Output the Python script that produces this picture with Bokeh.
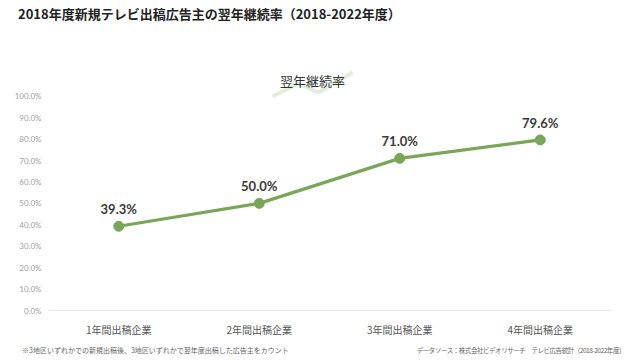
from bokeh.plotting import figure
from bokeh.layouts import column
from bokeh.models import (ColumnDataSource, Label, NumeralTickFormatter, FixedTicker,
                          Range1d, FactorRange, Div, PolyAnnotation)
from bokeh.core.properties import value
from bokeh.embed import file_html
from bokeh.resources import INLINE

categories = ["1年間出稿企業", "2年間出稿企業", "3年間出稿企業", "4年間出稿企業"]
rates = [0.393, 0.500, 0.710, 0.796]
rate_labels = ["39.3%", "50.0%", "71.0%", "79.6%"]
y_ticks = [0.0, 0.1, 0.2, 0.3, 0.4, 0.5, 0.6, 0.7, 0.8, 0.9, 1.0]

title_text = "2018年度新規テレビ出稿広告主の翌年継続率（2018-2022年度）"
series_name = "翌年継続率"
note_left = "※3地区いずれかでの新規出稿後、3地区いずれかで翌年度出稿した広告主をカウント"
note_right = "データソース：株式会社ビデオリサーチ　テレビ広告統計（2018-2022年度）"

GREEN = "#7aa65a"
JP = "Noto Sans CJK JP"

src = ColumnDataSource(dict(cat=categories, rate=rates, lab=rate_labels))

p = figure(width=640, height=312, x_range=FactorRange(*categories), y_range=Range1d(0, 1.12),
           output_backend="svg", toolbar_location=None,
           min_border_left=48, min_border_right=30, min_border_top=42, min_border_bottom=30,
           margin=(0, 0, 0, 0))
p.outline_line_color = None
p.background_fill_color = "white"
p.border_fill_color = "white"
p.xgrid.grid_line_color = None
p.ygrid.grid_line_color = None

# faint decorative legend icon behind the series name (frame-relative screen units)
p.add_layout(PolyAnnotation(xs=[224, 250, 270, 304, 270, 250], ys=[214, 227, 218, 238, 218, 227],
                            xs_units="screen", ys_units="screen",
                            fill_alpha=0, line_color="#dce9d2", line_width=4, line_alpha=0.8))

p.line("cat", "rate", source=src, line_color=GREEN, line_width=3.2)
p.scatter("cat", "rate", source=src, size=10, fill_color=GREEN, line_color=GREEN)
p.text("cat", "rate", text="lab", source=src, text_align="center", text_baseline="bottom",
       y_offset=-9, text_font=value("Lato"), text_font_style="bold",
       text_font_size="13px", text_color="#3a3a3a")

yax = p.yaxis[0]
yax.ticker = FixedTicker(ticks=y_ticks)
yax.formatter = NumeralTickFormatter(format="0.0%")
yax.axis_line_color = None
yax.major_tick_line_color = None
yax.minor_tick_line_color = None
yax.major_tick_out = 0
yax.major_label_standoff = 7
yax.major_label_text_font = "Lato"
yax.major_label_text_font_size = "8px"
yax.major_label_text_color = "#a0a0a0"

xax = p.xaxis[0]
xax.axis_line_color = "#e6e6e6"
xax.axis_line_width = 1
xax.major_tick_line_color = None
xax.minor_tick_line_color = None
xax.major_tick_out = 0
xax.major_label_standoff = 11
xax.major_label_text_font = JP
xax.major_label_text_font_size = "10px"
xax.major_label_text_color = "#555555"

# series name (legend-like) above the 100% line, inside the extended frame
p.add_layout(Label(x=264, y=1.075, x_units="screen", y_units="data", text=series_name,
                   text_font=JP, text_font_size="13px", text_color="#333333",
                   text_baseline="middle", text_align="center"))

title_div = Div(text=title_text, width=640, height=28, margin=(0, 0, 0, 0),
                styles={"font-family": "'Noto Sans CJK JP', sans-serif", "font-size": "13px",
                        "font-weight": "bold", "color": "#222222", "padding-left": "18px",
                        "line-height": "28px", "white-space": "nowrap"})

footer_html = (
    '<div style="display:flex;justify-content:space-between;box-sizing:border-box;width:625px;'
    'padding-left:22px;font-family:\'Noto Sans CJK JP\',sans-serif;font-size:7px;'
    'color:#666666;line-height:20px;white-space:nowrap;">'
    f'<span>{note_left}</span>'
    f'<span style="font-size:6.5px;letter-spacing:-0.45px;">{note_right}</span></div>'
)
footer_div = Div(text=footer_html, width=640, height=20, margin=(0, 0, 0, 0))

layout = column(title_div, p, footer_div, spacing=0)

open("out.html", "w").write(file_html(layout, INLINE))
